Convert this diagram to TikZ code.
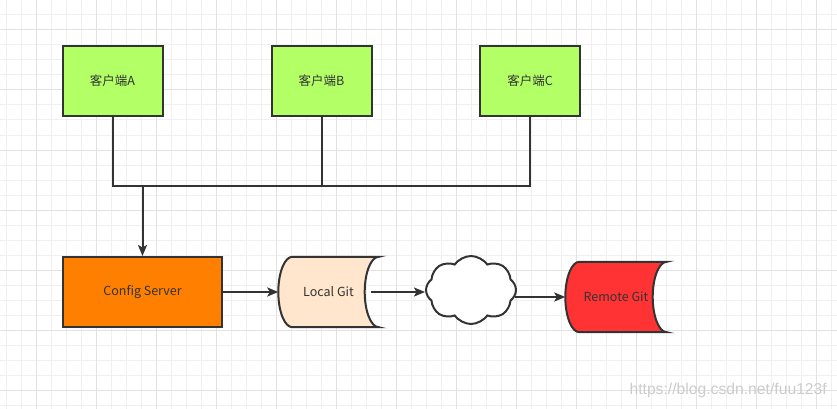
\documentclass[tikz,border=0pt]{standalone}
\usepackage{fontspec}
\newfontfamily\cjk{Noto Sans CJK SC}
\newfontfamily\wm{Liberation Sans}
\usetikzlibrary{arrows.meta,calc,shapes.symbols}
\definecolor{ink}{HTML}{333333}
\definecolor{gminor}{HTML}{F0F0F0}
\definecolor{gmajor}{HTML}{E2E2E2}
\definecolor{client}{HTML}{B3FF66}
\definecolor{server}{HTML}{FF8000}
\definecolor{local}{HTML}{FFE6CC}
\definecolor{remote}{HTML}{FF3333}
\tikzset{
  box/.style={draw=ink, line width=2pt, minimum width=100pt, minimum height=70pt,
    inner sep=0pt, font=\cjk\fontsize{12.5}{15}\selectfont, text=ink},
  store/.style={minimum width=100pt, minimum height=70pt, inner sep=0pt,
    font=\cjk\fontsize{12.5}{15}\selectfont, text=ink},
  storeline/.style={draw=ink, line width=2pt},
  wire/.style={draw=ink, line width=2pt},
  arr/.style={wire, -{Stealth[length=11pt,width=9pt,inset=2.5pt]}},
}
% data storage outline around a node #1 (s = 14, h = 70, quarter-ellipse sides)
\newcommand{\dstorepath}[1]{%
  ($(#1.north west)+(14,0)$) -- (#1.north east)
  .. controls ($(#1.north east)+(-7.7,0)$) and ($(#1.north east)+(-14,15.7)$) .. ($(#1.east)+(-14,0)$)
  .. controls ($(#1.east)+(-14,19.3)$) and ($(#1.south east)+(-7.7,0)$) .. (#1.south east)
  -- ($(#1.south west)+(14,0)$)
  .. controls ($(#1.south west)+(6.3,0)$) and ($(#1.west)+(0,19.3)$) .. (#1.west)
  .. controls ($(#1.west)+(0,-19.3)$) and ($(#1.north west)+(6.3,0)$) .. cycle}
\begin{document}
\begin{tikzpicture}[x=1pt,y=-1pt]
\useasboundingbox (0,0) rectangle (837,409);
\fill[white] (0,0) rectangle (837,409);
% grid
\foreach \i in {0,...,55} {\draw[gminor, line width=1pt] (6.5+15*\i,0) -- (6.5+15*\i,409);}
\foreach \j in {0,...,27} {\draw[gminor, line width=1pt] (0,15*\j) -- (837,15*\j);}
\foreach \i in {0,...,13} {\draw[gmajor, line width=1pt] (36.5+60*\i,0) -- (36.5+60*\i,409);}
\foreach \j in {0,...,6} {\draw[gmajor, line width=1pt] (0,30+60*\j) -- (837,30+60*\j);}

% clients
\node[box, fill=client] (ca) at (112.5,81) {客户端A};
\node[box, fill=client] (cb) at (321.5,81) {客户端B};
\node[box, fill=client] (cc) at (530,81) {客户端C};

% config server
\node[box, fill=server, minimum width=159pt] (cs) at (142.5,292) {Config Server};

% junction
\coordinate (ja) at (112.5,186);
\coordinate (jc) at (530,186);
\draw[wire] (ca.south) -- (ja) -- (jc) -- (cc.south);
\draw[wire] (cb.south) -- (cb.south |- ja);
\draw[arr] (cs.north |- ja) -- (cs.north);

% local git
\node[store] (lg) at (328.5,292) {};
\fill[local] \dstorepath{lg};
\draw[storeline] \dstorepath{lg};
\node[store] at (lg.center) {Local Git};

% cloud
\node[cloud, cloud puffs=8, cloud puff arc=110, aspect=1.3, draw=ink, line width=2pt, fill=white,
  minimum width=90pt, minimum height=68pt, inner sep=0pt] (cl) at (471,290) {};

% remote git
\node[store, minimum width=101pt] (rg) at (616,297) {};
\fill[remote] \dstorepath{rg};
\draw[storeline] \dstorepath{rg};
\node[store] at (rg.center) {Remote Git};

% connectors
\draw[arr] (cs.east) -- (lg.west);
\draw[arr] ([xshift=-8pt]lg.east) -- (lg.east -| cl.west);
\draw[arr] ([xshift=-2pt]rg.west -| cl.east) -- (rg.west);

% watermark
\node[font=\wm\fontsize{15.7}{18}\selectfont, text=gray!40, anchor=east, inner sep=0pt] (wmk) at (827,390) {https://blog.csdn.net/fuu123f};
\end{tikzpicture}
\end{document}
